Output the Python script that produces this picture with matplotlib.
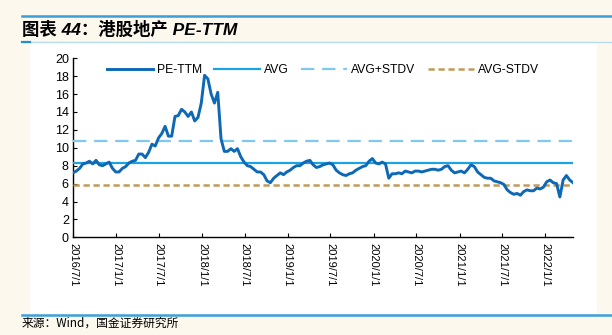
import numpy as np
import pandas as pd
import matplotlib.pyplot as plt
import matplotlib.dates as mdates
from matplotlib.patches import Rectangle
from matplotlib.lines import Line2D

plt.rcParams['font.family'] = ['Liberation Sans', 'Noto Sans CJK SC', 'DejaVu Sans']

# -- Data (biweekly from 2016-07-01) -------------------------------------------
start_date = '2016-07-01'
pe_ttm = [
    7.2, 7.4, 7.7, 8.2, 8.3, 8.5, 8.2, 8.6, 8.1, 8.0,
    8.2, 8.4, 7.7, 7.3, 7.3, 7.7, 7.9, 8.3, 8.5, 8.6,
    9.3, 9.3, 8.9, 9.5, 10.4, 10.2, 11.1, 11.6, 12.4, 11.3,
    11.3, 13.5, 13.6, 14.3, 14.0, 13.5, 14.0, 13.0, 13.4, 15.0,
    18.1, 17.7, 16.0, 15.0, 16.2, 11.0, 9.6, 9.6, 9.9, 9.6,
    9.9, 9.0, 8.4, 8.0, 7.9, 7.6, 7.3, 7.3, 7.0, 6.3,
    6.1, 6.6, 6.9, 7.2, 7.0, 7.3, 7.5, 7.8, 8.0, 8.0,
    8.3, 8.5, 8.6, 8.1, 7.8, 7.9, 8.1, 8.2, 8.3, 8.1,
    7.5, 7.2, 7.0, 6.9, 7.1, 7.2, 7.5, 7.7, 7.9, 8.0,
    8.5, 8.8, 8.3, 8.2, 8.4, 8.2, 6.6, 7.1, 7.1, 7.2,
    7.1, 7.4, 7.3, 7.2, 7.4, 7.4, 7.3, 7.4, 7.5, 7.6,
    7.6, 7.5, 7.6, 7.9, 8.0, 7.5, 7.2, 7.3, 7.4, 7.2,
    7.6, 8.1, 7.9, 7.3, 7.0, 6.7, 6.6, 6.6, 6.3, 6.2,
    6.1, 5.9, 5.3, 5.0, 4.8, 4.9, 4.7, 5.1, 5.3, 5.2,
    5.2, 5.5, 5.4, 5.6, 6.2, 6.4, 6.1, 6.0, 4.5, 6.4,
    6.9, 6.4, 6.1,
]
avg = 8.27
avg_plus = 10.73
avg_minus = 5.83
tick_dates = pd.date_range('2016-07-01', '2022-01-01', freq='6MS')

dates = pd.date_range(start_date, periods=len(pe_ttm), freq='14D')

# -- Figure -------------------------------------------------------------------
fig = plt.figure(figsize=(6.12, 3.35), dpi=100)
fig.patch.set_facecolor('#fcf8ee')
W, H = 612, 335

def fx(px):
    return px / W

def fy(py):
    return 1 - py / H

# white panel
panel = Rectangle((fx(30), fy(315)), fx(597) - fx(30), fy(42) - fy(315),
                  transform=fig.transFigure, facecolor='white', edgecolor='none')
panel.set_zorder(-5)
fig.add_artist(panel)
# decorative rules
fig.add_artist(Line2D([fx(22), 1], [fy(15.5), fy(15.5)], color='#3a9fdb', lw=1.8))
fig.add_artist(Line2D([fx(22), 1], [fy(41.5), fy(41.5)], color='#b5dcf2', lw=1.0))
fig.add_artist(Line2D([fx(22), fx(30)], [fy(41.5), fy(41.5)], color='#1e90d8', lw=1.6))
fig.add_artist(Line2D([fx(22), 1], [fy(315), fy(315)], color='#3a9fdb', lw=1.8))

fig.text(fx(22), fy(29), '图表 44：港股地产 PE-TTM', fontsize=12.5, fontweight='bold',
         fontstyle='italic', ha='left', va='center')
fig.text(fx(22), fy(323), '来源：Wind，国金证券研究所', fontsize=8.5,
         family=['Noto Sans CJK SC', 'DejaVu Sans'], ha='left', va='center')

ax = fig.add_axes([fx(73), fy(237.3), fx(573) - fx(73), fy(58.3) - fy(237.3)])
ax.set_zorder(5)
ax.patch.set_alpha(0)

ax.plot(dates, pe_ttm, color='#0d68b5', lw=2.1, label='PE-TTM', zorder=4)
ax.axhline(avg, color='#1ca3e3', lw=1.6, label='AVG', zorder=3)
ax.axhline(avg_plus, color='#80c8f0', lw=1.6, ls=(0, (6, 3.5)), label='AVG+STDV', zorder=3)
ax.axhline(avg_minus, color='#c09a5a', lw=1.8, ls=(0, (2.5, 1.5)), label='AVG-STDV', zorder=3)

ax.set_xlim(dates[0], dates[-1])
ax.set_ylim(0, 20)
ax.set_yticks(np.arange(0, 21, 2))
ax.set_xticks(tick_dates)
ax.xaxis.set_major_formatter(mdates.DateFormatter('%Y/%-m/%-d'))
ax.tick_params(axis='x', direction='in', length=3, labelsize=8, rotation=270, pad=4)
ax.tick_params(axis='y', direction='in', length=3, labelsize=9, pad=3)
for lab in ax.get_xticklabels():
    lab.set_va('top')
    lab.set_ha('center')

for s in ['top', 'right']:
    ax.spines[s].set_visible(False)
for s in ['left', 'bottom']:
    ax.spines[s].set_linewidth(1.0)

ax.legend(loc='upper center', bbox_to_anchor=(0.5, 1.03), ncol=4, frameon=False,
          fontsize=8.7, handlelength=3.8, columnspacing=1.0, handletextpad=0.35)

fig.savefig('out.png', dpi=100, facecolor=fig.get_facecolor())
